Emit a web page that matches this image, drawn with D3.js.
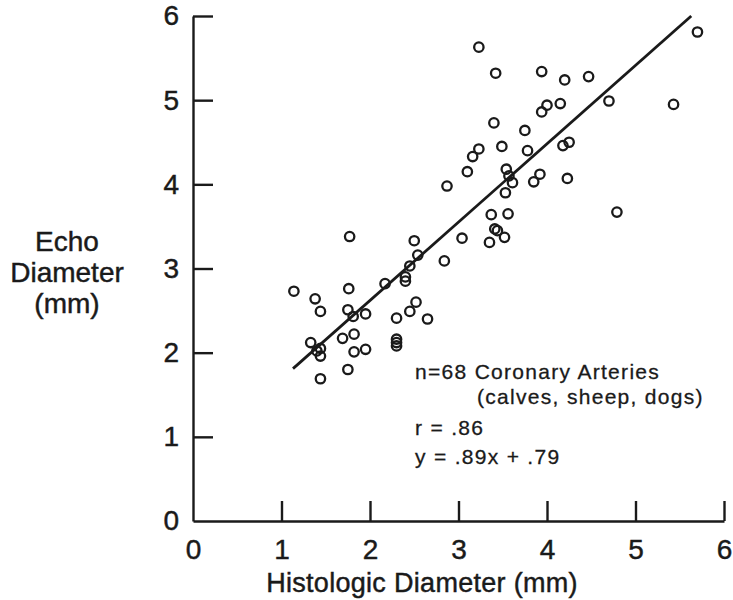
<!DOCTYPE html>
<html lang="en">
<head>
<meta charset="UTF-8">
<title>Echo vs Histologic Diameter</title>
<script src="https://cdnjs.cloudflare.com/ajax/libs/d3/7.8.5/d3.min.js"></script>
<style>
  body { margin: 0; background: #fff; }
  svg { display: block; }
  text { font-family: "Liberation Sans", Arial, Helvetica, sans-serif; fill: #1a1a1a; stroke: #1a1a1a; stroke-width: 0.45px; }
</style>
</head>
<body>
<div id="chart"></div>
<script>
// values (mm)
const histologic = [
  3.23, 3.42, 3.94, 4.20, 4.47, 5.70, 4.70, 5.43, 3.94, 4.00, 4.15, 3.40, 3.75, 3.23,
  3.16, 3.49, 3.78, 4.18, 4.25, 3.10, 2.87, 3.54, 3.61, 3.53, 3.85, 3.92, 4.23,
  3.37, 3.56, 4.79, 3.41, 3.44, 3.52, 3.35, 3.04,
  1.77, 2.50, 2.84, 2.54, 2.45, 2.40, 2.40, 2.17, 1.14, 1.76, 1.38, 1.44, 1.75, 1.81,
  1.95, 2.52, 2.45, 2.30, 2.65, 1.33, 1.44, 1.44, 1.69, 1.82, 1.82, 1.95, 2.30, 2.30,
  1.75, 1.44, 2.30, 3.57, 1.40
];
const echo = [
  5.63, 5.32, 5.34, 5.24, 5.28, 5.81, 4.99, 4.95, 4.86, 4.94, 4.96, 4.73, 4.64, 4.42,
  4.33, 4.45, 4.40, 4.46, 4.50, 4.15, 3.98, 4.18, 4.02, 3.90, 4.03, 4.12, 4.07,
  3.64, 3.65, 3.67, 3.47, 3.45, 3.37, 3.31, 3.36,
  3.38, 3.33, 3.09, 3.16, 3.03, 2.90, 2.85, 2.82, 2.73, 2.76, 2.64, 2.49, 2.51, 2.43,
  2.46, 2.60, 2.49, 2.41, 2.40, 2.12, 2.05, 1.96, 2.17, 2.22, 2.01, 2.04, 2.16, 2.08,
  1.80, 1.69, 2.12, 4.10, 2.02
];
// regression line as drawn in the figure
const fitX = [1.13, 5.63];
const fitY = [1.81, 6.0];

const xTicks = [0, 1, 2, 3, 4, 5, 6];
const yTicks = [0, 1, 2, 3, 4, 5, 6];
const xTitle = "Histologic Diameter (mm)";
const yTitle = ["Echo", "Diameter", "(mm)"];
const notes = ["n=68 Coronary Arteries", "(calves, sheep, dogs)", "r = .86", "y = .89x + .79"];

const width = 733, height = 600;
const margin = {left: 193, top: 16, right: 9, bottom: 79};

const svg = d3.select("#chart").append("svg")
  .attr("width", width).attr("height", height);

const x = d3.scaleLinear().domain([0, 6]).range([margin.left, width - margin.right]);
const y = d3.scaleLinear().domain([0, 6]).range([height - margin.bottom, margin.top]);

const ink = "#1a1a1a";

const xAxis = svg.append("g")
  .attr("transform", `translate(0,${y(0)})`)
  .call(d3.axisBottom(x).tickValues(xTicks).tickFormat(d3.format("d"))
    .tickSizeInner(-20).tickSizeOuter(0).tickPadding(18));

const yAxis = svg.append("g")
  .attr("transform", `translate(${x(0)},0)`)
  .call(d3.axisLeft(y).tickValues(yTicks).tickFormat(d3.format("d"))
    .tickSizeInner(-20).tickSizeOuter(0).tickPadding(14));

[xAxis, yAxis].forEach(g => {
  g.select(".domain").attr("stroke", ink).attr("stroke-width", 2.4);
  g.selectAll(".tick line").attr("stroke", ink).attr("stroke-width", 2.4);
  g.selectAll(".tick text").attr("fill", ink).style("font-size", "28px");
});
xAxis.selectAll(".tick").filter(d => d === 0).select("line").remove();
yAxis.selectAll(".tick").filter(d => d === 0).select("line").remove();

// regression line
svg.append("line")
  .attr("x1", x(fitX[0])).attr("y1", y(fitY[0]))
  .attr("x2", x(fitX[1])).attr("y2", y(fitY[1]))
  .attr("stroke", ink).attr("stroke-width", 2.8);

// points
svg.append("g").selectAll("circle")
  .data(histologic.map((h, i) => ({h, e: echo[i]})))
  .join("circle")
  .attr("cx", d => x(d.h))
  .attr("cy", d => y(d.e))
  .attr("r", 4.7)
  .attr("fill", "none")
  .attr("stroke", ink)
  .attr("stroke-width", 2.3);

// axis titles
svg.append("text")
  .attr("x", 422).attr("y", 592)
  .attr("text-anchor", "middle")
  .style("font-size", "27px")
  .style("letter-spacing", "0.3px")
  .text(xTitle);

svg.append("g").selectAll("text")
  .data(yTitle)
  .join("text")
  .attr("x", 67)
  .attr("y", (d, i) => 251 + i * 31)
  .attr("text-anchor", "middle")
  .style("font-size", "28px")
  .text(d => d);

// annotation
const noteX = [415, 477, 415, 415];
const noteY = [379, 404, 435, 464];
svg.append("g").selectAll("text")
  .data(notes)
  .join("text")
  .attr("x", (d, i) => noteX[i])
  .attr("y", (d, i) => noteY[i])
  .style("font-size", "21px")
  .style("letter-spacing", "1.3px")
  .style("stroke-width", "0.3px")
  .text(d => d);
</script>
</body>
</html>
